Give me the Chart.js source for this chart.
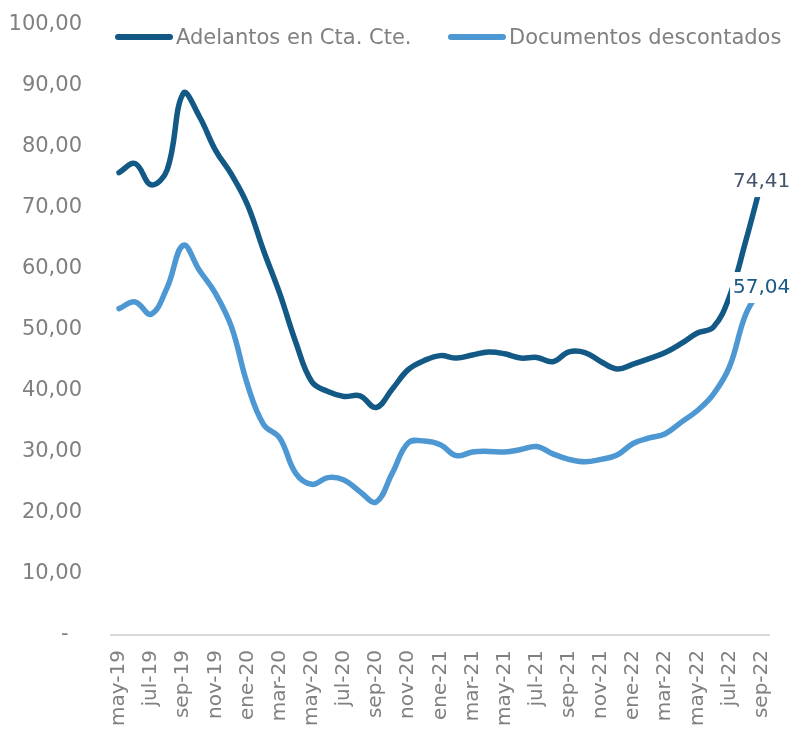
<!DOCTYPE html>
<html>
<head>
<meta charset="utf-8">
<script src="https://cdn.jsdelivr.net/npm/chart.js@4.4.0/dist/chart.umd.min.js"></script>
<style>
    body {margin: 0; background: #fff;}
    #wrap {position: relative; width: 801px; height: 729px;}
    #legend {position: absolute; top: 0; left: 0; font-family: 'DejaVu Sans', Verdana, sans-serif; font-size: 21px; color: #808080;}
    .item {position: absolute; top: 25px; line-height: 24px; white-space: nowrap;}
    .mark {position: absolute; top: 9px; height: 6px; width: 58px; border-radius: 3px;}
    .txt {position: absolute; left: 61px; top: 0;}
</style>
</head>
<body>
<div id="wrap">
    <canvas id="myChart" width="801" height="729"></canvas>
    <div id="legend"></div>
</div>
<script>
// meses (may-19 .. sep-22)
const months = ['may-19', 'jun-19', 'jul-19', 'ago-19', 'sep-19', 'oct-19', 'nov-19', 'dic-19',
    'ene-20', 'feb-20', 'mar-20', 'abr-20', 'may-20', 'jun-20', 'jul-20', 'ago-20', 'sep-20', 'oct-20', 'nov-20', 'dic-20',
    'ene-21', 'feb-21', 'mar-21', 'abr-21', 'may-21', 'jun-21', 'jul-21', 'ago-21', 'sep-21', 'oct-21', 'nov-21', 'dic-21',
    'ene-22', 'feb-22', 'mar-22', 'abr-22', 'may-22', 'jun-22', 'jul-22', 'ago-22', 'sep-22'];

const adelantos = [75.8, 77.3, 73.8, 76.3, 88.8, 85.0, 79.5, 75.5,
    70.5, 63.0, 56.0, 48.0, 41.5, 39.9, 39.1, 39.2, 37.3, 40.3, 43.5, 45.0,
    45.8, 45.4, 45.9, 46.4, 46.1, 45.4, 45.5, 44.8, 46.4, 46.3, 44.8, 43.6,
    44.4, 45.3, 46.3, 47.8, 49.5, 50.5, 55.5, 64.5, 74.41];

const documentos = [53.5, 54.6, 52.6, 57.0, 63.9, 59.8, 56.0, 50.5,
    41.0, 34.5, 32.3, 26.5, 24.7, 25.8, 25.4, 23.5, 21.8, 26.5, 31.5, 31.8,
    31.2, 29.4, 30.0, 30.1, 30.0, 30.4, 30.9, 29.7, 28.8, 28.4, 28.8, 29.5,
    31.4, 32.3, 33.0, 34.9, 36.8, 39.5, 44.0, 52.5, 57.04];

const seriesNames = ['Adelantos en Cta. Cte.', 'Documentos descontados'];
const seriesColors = ['#135985', '#4d98d3'];
const lastLabelColors = ['#44546a', '#1a5a88'];

const fontFam = "'DejaVu Sans', Verdana, sans-serif";
const grey = '#808080';

// leyenda html
const legendPos = [115, 448];
seriesNames.forEach(function (n, k) {
    const it = document.createElement('div');
    it.className = 'item';
    it.style.left = legendPos[k] + 'px';
    it.innerHTML = '<span class="mark" style="background:' + seriesColors[k] + '"></span><span class="txt">' + n + '</span>';
    document.getElementById('legend').appendChild(it);
});

const fmt = v => v.toFixed(2).replace('.', ',');

const lastLabels = {
    id: 'lastLabels',
    afterDatasetsDraw(chart) {
        const c = chart.ctx;
        c.save();
        c.font = '20px ' + fontFam;
        c.textAlign = 'center';
        c.textBaseline = 'middle';
        chart.data.datasets.forEach(function (ds, k) {
            const meta = chart.getDatasetMeta(k);
            const i = ds.data.length - 1;
            const pt = meta.data[i];
            const txt = fmt(ds.data[i]);
            const w = c.measureText(txt).width;
            c.fillStyle = '#fff';
            c.fillRect(pt.x - w / 2 - 3, pt.y - 15, w + 6, 31);
            c.fillStyle = lastLabelColors[k];
            c.fillText(txt, pt.x, pt.y + 1);
        });
        c.restore();
    }
};

const ctx = document.getElementById('myChart');
const myChart = new Chart(ctx, {
    type: 'line',
    data: {
        labels: months,
        datasets: [adelantos, documentos].map(function (d, k) {
            return {
                label: seriesNames[k],
                data: d,
                borderColor: seriesColors[k],
                backgroundColor: seriesColors[k],
                borderWidth: 5.5,
                borderCapStyle: 'round',
                borderJoinStyle: 'round',
                pointRadius: 0,
                tension: 0.4,
                fill: false
            };
        })
    },
    options: {
        responsive: false,
        animation: false,
        layout: {padding: {top: 25, right: 27, bottom: 0, left: 0}},
        plugins: {legend: {display: false}, tooltip: {enabled: false}},
        scales: {
            x: {
                offset: true,
                grid: {display: false, drawTicks: false},
                border: {display: true, color: '#d9d9d9', width: 2},
                ticks: {
                    autoSkip: false, minRotation: 90, maxRotation: 90, padding: 15,
                    color: grey, font: {family: fontFam, size: 20},
                    callback: function (v, i) { return i % 2 === 0 ? months[i] : ''; }
                },
                afterFit: function (s) { s.height = 94; }
            },
            y: {
                min: 0, max: 100,
                grid: {display: false, drawTicks: false},
                border: {display: false},
                ticks: {
                    stepSize: 10, padding: 29,
                    color: grey, font: {family: fontFam, size: 21},
                    callback: function (v) { return v === 0 ? '-  ' : fmt(v); }
                },
                afterFit: function (s) {
                    s.width = 111;
                    s.paddingTop = 12;
                    s.paddingBottom = 12;
                }
            }
        }
    },
    plugins: [lastLabels]
});
</script>
</body>
</html>
